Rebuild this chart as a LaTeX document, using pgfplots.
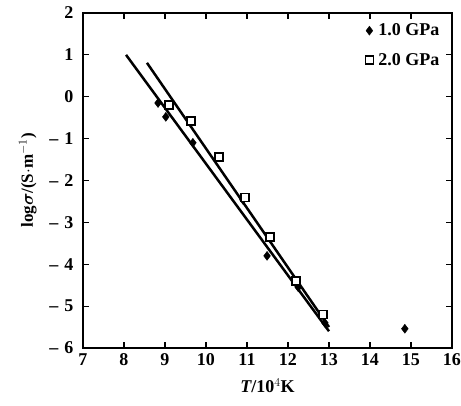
\documentclass[border=0pt]{standalone}
\usepackage{amsmath,amssymb}
\usepackage{pgfplots}
\pgfplotsset{compat=1.18}
\usepackage{fontspec}
\setmainfont{Liberation Serif}
\begin{document}
\begin{tikzpicture}[x=1pt,y=1pt]
\path[use as bounding box] (-83,-57) rectangle (378,348);
\begin{axis}[at={(0,0)},anchor=south west,scale only axis,
width=369pt,height=335pt,
xmin=7,xmax=16,ymin=-6,ymax=2,
xtick={7,8,...,16},ytick={-6,-5,...,2},
yticklabels={{–\,\,6},{–\,\,5},{–\,\,4},{–\,\,3},{–\,\,2},{–\,\,1},0,1,2},
tick style={black,line width=1.2pt},major tick length=6pt,
axis line style={line width=1.5pt},
tick label style={font=\fontsize{18}{20}\selectfont\bfseries},
yticklabel style={xshift=-6pt},
xticklabel style={yshift=-2pt},
/pgf/number format/assume math mode=true,
xlabel={\fontsize{18}{20}\selectfont\bfseries\itshape T\upshape/10$^{4}$K},
ylabel={\fontsize{17}{20}\selectfont\bfseries log$\boldsymbol{\sigma}$/(S$\cdot$m$^{-1}$)},
xlabel style={yshift=-6pt},
ylabel style={yshift=6pt},
legend style={at={(0.98,0.98)},anchor=north east,draw=none,fill=none,
font=\fontsize{18}{20}\selectfont\bfseries,row sep=12pt},
legend cell align=left]
\addplot[only marks,mark=diamond*,mark size=4.5pt,black] coordinates {
(8.83,-0.15) (9.02,-0.48) (9.68,-1.1) (10.9,-2.46) (11.49,-3.8)
(12.25,-4.55) (12.9,-5.4) (14.85,-5.54)};
\addlegendentry{\,1.0 GPa}
\addplot[only marks,mark=square*,mark size=4pt,black,fill=white,line width=1.5pt] coordinates {
(9.1,-0.2) (9.63,-0.58) (10.32,-1.44) (10.95,-2.4) (11.56,-3.35)
(12.2,-4.4) (12.85,-5.2)};
\addlegendentry{\,2.0 GPa}
\addplot[black,line width=2.5pt,forget plot] coordinates {(8.05,1.0) (13.0,-5.6)};
\addplot[black,line width=2.5pt,forget plot] coordinates {(8.56,0.81) (13.0,-5.5)};
\end{axis}
\end{tikzpicture}
\end{document}
